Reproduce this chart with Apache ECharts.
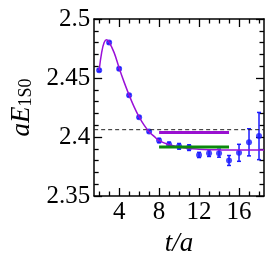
<!DOCTYPE html>
<html>
<head>
<meta charset="utf-8">
<script src="https://cdn.jsdelivr.net/npm/echarts@6/dist/echarts.min.js"></script>
<style>html,body{margin:0;padding:0;background:#fff}#c{width:274px;height:262px}</style>
</head>
<body>
<div id="c"></div>
<script>
// ---- data ----
const tValues = [2, 3, 4, 5, 6, 7, 8, 9, 10, 11, 12, 13, 14, 15, 16, 17, 18];
const energyValues = [2.4565, 2.4800, 2.4578, 2.4353, 2.4167, 2.4047, 2.3970, 2.3937, 2.3921, 2.3910, 2.3848, 2.3863, 2.3863, 2.3801, 2.3866, 2.3955, 2.4008];
const energyErrors = [0.001, 0.001, 0.001, 0.001, 0.001, 0.001, 0.0018, 0.002, 0.0024, 0.0024, 0.0022, 0.0028, 0.0034, 0.0042, 0.0072, 0.0115, 0.020];
const fitT = [2, 2.25, 2.5, 2.75, 3, 3.5, 4, 4.5, 5, 5.5, 6, 6.5, 7, 7.5, 8, 9, 10, 11, 12, 13, 14, 15, 16, 18.5];
const fitE = [2.4565, 2.4715, 2.4800, 2.4825, 2.4805, 2.4715, 2.4585, 2.4465, 2.4355, 2.4255, 2.4170, 2.4100, 2.4045, 2.4005, 2.3970, 2.3935, 2.3915, 2.3903, 2.3897, 2.3893, 2.3891, 2.3890, 2.3890, 2.3890];
const thresholdValue = 2.4062;
const purpleBand = { from: 8, to: 15, value: 2.4038 };
const greenBand = { from: 8, to: 15, value: 2.3916 };
const xRange = [1.5, 18.5];
const yRange = [2.35, 2.5];
const xMajorTicks = [4, 8, 12, 16];
const xMinorTicks = [2, 3, 5, 6, 7, 9, 10, 11, 13, 14, 15, 17, 18];
const yMajorTicks = [2.35, 2.4, 2.45, 2.5];
const yMinorTicks = [2.36, 2.37, 2.38, 2.39, 2.41, 2.42, 2.43, 2.44, 2.46, 2.47, 2.48, 2.49];

const FONT = 'Times New Roman';
const BLACK = '#000';

function axis(kind, pos, ticks, len, opts) {
  const range = kind === 'x' ? xRange : yRange;
  return Object.assign({
    type: 'value', position: pos, min: range[0], max: range[1],
    splitLine: { show: false },
    axisLine: { show: true, onZero: false, lineStyle: { color: BLACK, width: 1.5 } },
    axisTick: { show: true, inside: true, length: len, customValues: ticks, lineStyle: { color: BLACK, width: 1.3 } },
    axisLabel: { show: false }
  }, opts || {});
}

const chart = echarts.init(document.getElementById('c'), null, { renderer: 'canvas' });
chart.setOption({
  animation: false,
  textStyle: { fontFamily: FONT },
  grid: { left: 91, top: 19, width: 173, height: 191, containLabel: false },
  xAxis: [
    axis('x', 'bottom', xMajorTicks, 8, {
      axisLabel: { show: true, customValues: xMajorTicks, fontFamily: FONT, fontSize: 25, color: BLACK, margin: 4 },
      name: 't/a', nameLocation: 'middle', nameGap: 34,
      nameTextStyle: { fontFamily: FONT, fontSize: 27, fontStyle: 'italic', color: BLACK }
    }),
    axis('x', 'bottom', xMinorTicks, 4.5, { axisLine: { show: false } }),
    axis('x', 'top', xMajorTicks, 8),
    axis('x', 'top', xMinorTicks, 4.5, { axisLine: { show: false } })
  ],
  yAxis: [
    axis('y', 'left', yMajorTicks, 8, {
      axisLabel: { show: true, customValues: yMajorTicks, fontFamily: FONT, fontSize: 25, color: BLACK, margin: 4 },
      name: '{a|aE}{s|1S0}', nameLocation: 'middle', nameGap: 58, nameRotate: 90,
      nameTextStyle: {
        fontFamily: FONT, color: BLACK,
        rich: {
          a: { fontFamily: FONT, fontSize: 27, fontStyle: 'italic', color: BLACK },
          s: { fontFamily: FONT, fontSize: 18, color: BLACK, verticalAlign: 'bottom', padding: [10, 0, 0, 0] }
        }
      }
    }),
    axis('y', 'left', yMinorTicks, 4.5, { axisLine: { show: false } }),
    axis('y', 'right', yMajorTicks, 8),
    axis('y', 'right', yMinorTicks, 4.5, { axisLine: { show: false } })
  ],
  series: [
    {
      type: 'line', name: 'threshold', silent: true, showSymbol: false,
      data: [[xRange[0], thresholdValue], [xRange[1], thresholdValue]],
      lineStyle: { color: '#222', width: 1, type: [4, 3] }
    },
    {
      type: 'line', name: 'fit', showSymbol: false, smooth: 0.4,
      data: fitT.map((t, i) => [t, fitE[i]]),
      lineStyle: { color: '#9a10d8', width: 1.5 }
    },
    {
      type: 'line', name: 'purple', showSymbol: false,
      data: [[purpleBand.from, purpleBand.value], [purpleBand.to, purpleBand.value]],
      lineStyle: { color: '#9a10d0', width: 3 }
    },
    {
      type: 'line', name: 'green', showSymbol: false,
      data: [[greenBand.from, greenBand.value], [greenBand.to, greenBand.value]],
      lineStyle: { color: '#0a8a0a', width: 3 }
    },
    {
      type: 'custom', name: 'errors',
      data: tValues.map((t, i) => [t, energyValues[i] - energyErrors[i], energyValues[i] + energyErrors[i]]),
      renderItem: function (params, api) {
        const x = api.value(0);
        const lo = api.coord([x, api.value(1)]);
        const hi = api.coord([x, api.value(2)]);
        const st = { stroke: '#1a1aff', lineWidth: 1.5 };
        const cw = 2;
        return {
          type: 'group',
          children: [
            { type: 'line', shape: { x1: lo[0], y1: lo[1], x2: hi[0], y2: hi[1] }, style: st },
            { type: 'line', shape: { x1: lo[0] - cw, y1: lo[1], x2: lo[0] + cw, y2: lo[1] }, style: st },
            { type: 'line', shape: { x1: hi[0] - cw, y1: hi[1], x2: hi[0] + cw, y2: hi[1] }, style: st }
          ]
        };
      }
    },
    {
      type: 'scatter', name: 'data', symbol: 'circle', symbolSize: 6,
      data: tValues.map((t, i) => [t, energyValues[i]]),
      itemStyle: { color: '#1a1aff' }
    }
  ]
});
</script>
</body>
</html>
